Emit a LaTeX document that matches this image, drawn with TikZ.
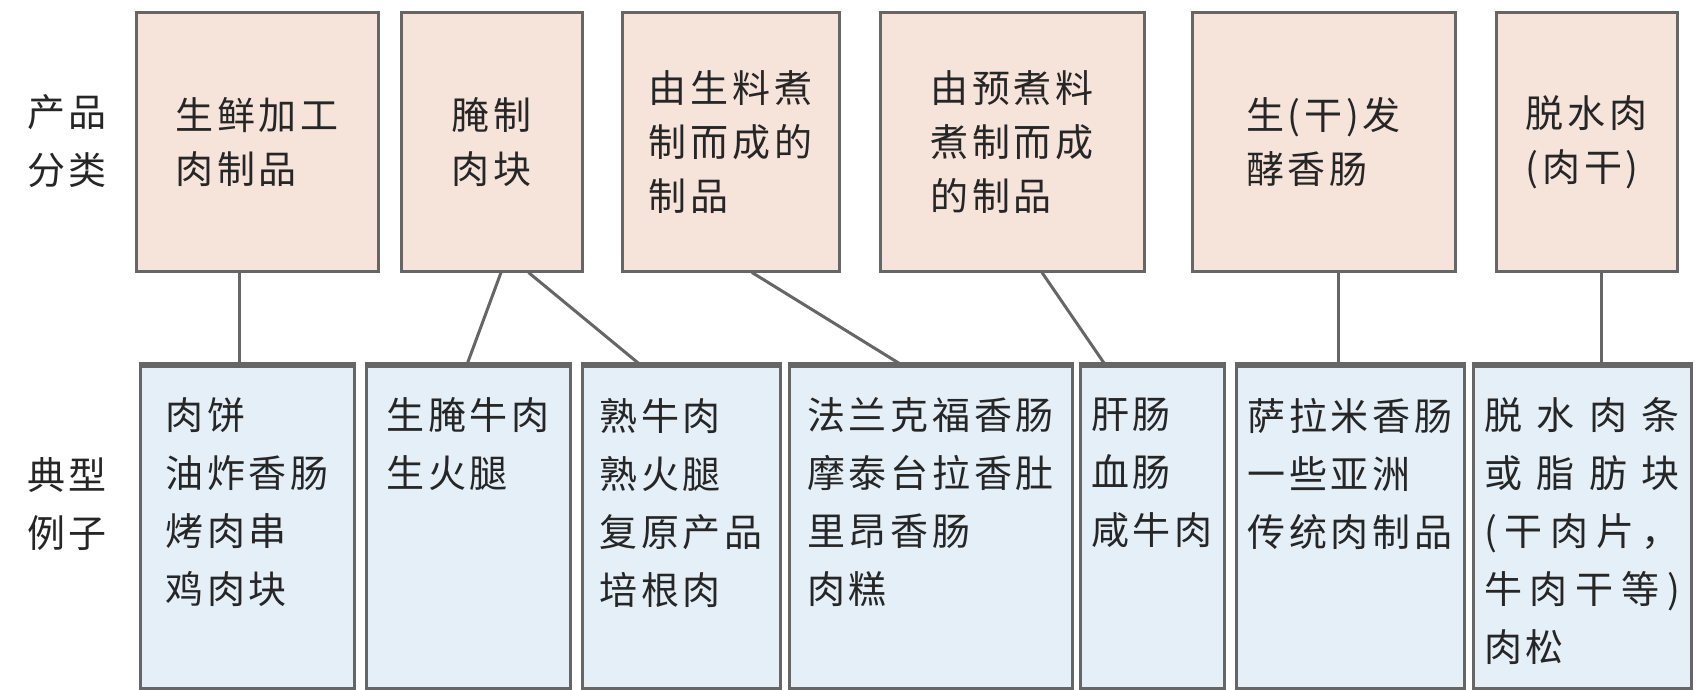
\documentclass[tikz,border=0pt]{standalone}
\usepackage{fontspec}
\newfontfamily\cjk[LetterSpace=10]{Noto Sans CJK SC}
\usetikzlibrary{calc}
\definecolor{topfill}{HTML}{F6E4DB}
\definecolor{botfill}{HTML}{E4EFF8}
\definecolor{edge}{HTML}{666666}
\definecolor{ink}{HTML}{262626}
\newcommand\tbox[3]{\node[topbox,minimum width={(#3-#2)*0.5pt}] (#1) at ({(#2+#3)/2},142) {};}
\newcommand\bbox[3]{\node[botbox,minimum width={(#3-#2)*0.5pt}] (#1) at ({(#2+#3)/2},527) {};
  \draw[edge,line width=2.4pt] (#1.north west) -- (#1.north east);}
\newcommand\jl[1]{\makebox[98pt][l]{#1}}
\begin{document}
\begin{tikzpicture}[x=0.5pt,y=-0.5pt,
  topbox/.style={draw=edge,line width=1.5pt,fill=topfill,inner sep=0,minimum height=129pt},
  botbox/.style={draw=edge,line width=1.5pt,fill=botfill,inner sep=0,minimum height=161pt},
  toptext/.style={inner sep=0,align=left,text=ink,font=\cjk\fontsize{19pt}{27pt}\selectfont},
  bottext/.style={inner sep=0,align=left,text=ink,anchor=north,font=\cjk\fontsize{19pt}{29pt}\selectfont},
  lbl/.style={inner sep=0,align=left,text=ink,font=\cjk\fontsize{19pt}{29pt}\selectfont},
  conn/.style={draw=edge,line width=1.5pt}]
\useasboundingbox[fill=white] (0,0) rectangle (1702,690);
% top row
\tbox{c1}{136}{378}
\tbox{c2}{401}{582}
\tbox{c3}{622}{839}
\tbox{c4}{880}{1144}
\tbox{c5}{1192}{1455}
\tbox{c6}{1496}{1677}
\node[toptext] (ct1) at (c1) {生鲜加工\\肉制品};
\node[toptext] (ct2) at (c2) {腌制\\肉块};
\node[toptext] (ct3) at (c3) {由生料煮\\制而成的\\制品};
\node[toptext] (ct4) at (c4) {由预煮料\\煮制而成\\的制品};
\node[toptext] (ct5) at (c5) {生(干)发\\酵香肠};
\node[toptext] (ct6) at (c6) {脱水肉\\(肉干)};
% bottom row
\bbox{e1}{140}{354}
\bbox{e2}{366}{570}
\bbox{e3}{582}{780}
\bbox{e4}{789}{1072}
\bbox{e5}{1080}{1224}
\bbox{e6}{1236}{1464}
\bbox{e7}{1473}{1691}
\node[bottext] (et1) at ($(e1.north)+(0,33)$) {肉饼\\油炸香肠\\烤肉串\\鸡肉块};
\node[bottext] (et2) at ($(e2.north)+(0,33)$) {生腌牛肉\\生火腿};
\node[bottext] (et3) at ($(e3.north)+(0,33)$) {熟牛肉\\熟火腿\\复原产品\\培根肉};
\node[bottext] (et4) at ($(e4.north)+(0,33)$) {法兰克福香肠\\摩泰台拉香肚\\里昂香肠\\肉糕};
\node[bottext] (et5) at ($(e5.north)+(0,33)$) {肝肠\\血肠\\咸牛肉};
\node[bottext] (et6) at ($(e6.north)+(0,33)$) {萨拉米香肠\\一些亚洲\\传统肉制品};
\node[bottext] (et7) at ($(e7.north)+(0,33)$) {\jl{脱\hfill 水\hfill 肉\hfill 条}\\\jl{或\hfill 脂\hfill 肪\hfill 块}\\\jl{(\hfill 干\hfill 肉\hfill 片\hfill ，}\\\jl{牛\hfill 肉\hfill 干\hfill 等\hfill )}\\肉松};
% side labels
\node[lbl] (l1) at (67,141) {产品\\分类};
\node[lbl] (l2) at (67,504) {典型\\例子};
% connectors
\draw[conn] ([xshift=-9pt]c1.south) -- ([xshift=-9pt]c1.south |- e1.north);
\draw[conn] ([xshift=4.75pt]c2.south) -- ([xshift=-0.5pt]e2.north);
\draw[conn] ([xshift=18.5pt]c2.south) -- ([xshift=-20.5pt]e3.north);
\draw[conn] ([xshift=10.75pt]c3.south) -- ([xshift=-14.75pt]e4.north);
\draw[conn] ([xshift=15pt]c4.south) -- ([xshift=-23.5pt]e5.north);
\draw[conn] ([xshift=7.25pt]c5.south) -- ([xshift=7.25pt]c5.south |- e6.north);
\draw[conn] ([xshift=7.25pt]c6.south) -- ([xshift=7.25pt]c6.south |- e7.north);
\end{tikzpicture}
\end{document}
